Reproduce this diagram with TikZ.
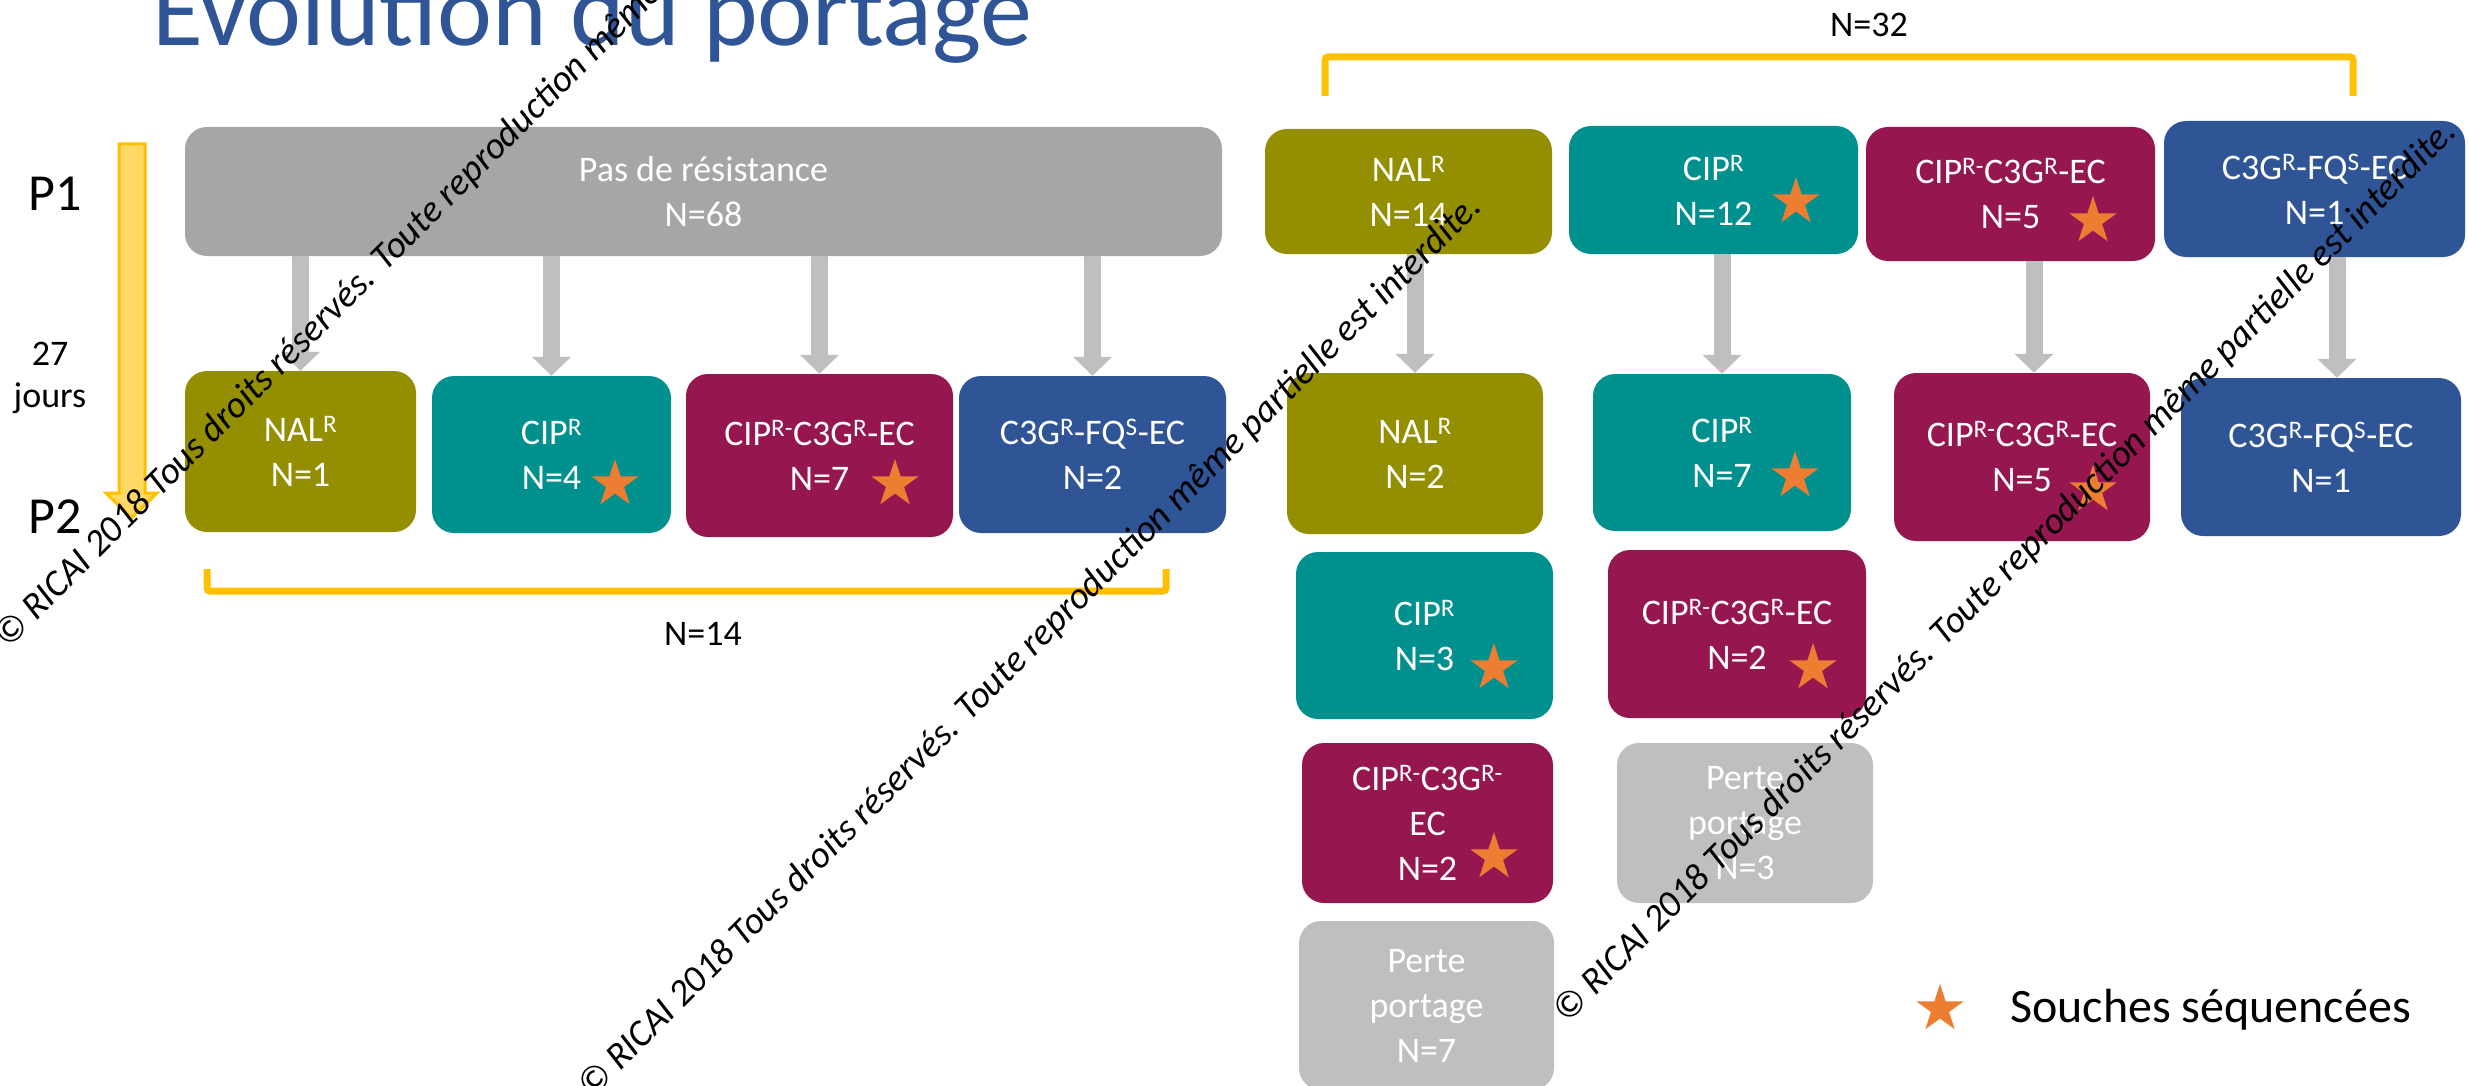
\documentclass[tikz,border=0pt]{standalone}
\usepackage{fontspec}
\setmainfont{Carlito}
\usetikzlibrary{arrows.meta,shapes.geometric}
\definecolor{titleblue}{HTML}{2F5597}
\definecolor{nalgreen}{HTML}{948F00}
\definecolor{cipteal}{HTML}{00918F}
\definecolor{cecrimson}{HTML}{96174F}
\definecolor{fqblue}{HTML}{2F5597}
\definecolor{nores}{HTML}{A6A6A6}
\definecolor{lostgray}{HTML}{BFBFBF}
\definecolor{seqorange}{HTML}{ED7D31}
\definecolor{gold}{HTML}{FFC000}
\definecolor{goldlight}{HTML}{FFD966}
\tikzset{
  strain/.style={rounded corners=22pt, inner sep=0pt, align=center, text=white, font=\fontsize{36}{45}\selectfont},
  seq/.style={star, star points=5, star point ratio=2.618, minimum size=50pt, inner sep=0pt, fill=seqorange},
  flow/.style={line width=17pt, lostgray, -{Triangle[width=38pt,length=19pt]}},
  brace/.style={line width=7pt, gold, rounded corners=3pt},
  lbl/.style={inner sep=0pt, anchor=base, font=\fontsize{36}{45}\selectfont},
  wmark/.style={anchor=base west, rotate=45, inner sep=0pt, font=\fontsize{37.6}{44}\selectfont\itshape}
}
\begin{document}
\begin{tikzpicture}[x=1pt,y=-1pt]
\path[use as bounding box] (0,0) rectangle (2468,1086);
\node[anchor=base west, inner sep=0pt, text=titleblue, font=\fontsize{104}{110}\selectfont] (title) at (152,46) {Evolution du portage};
\node[lbl, font=\fontsize{52}{60}\selectfont] (p1) at (55,211) {P1};
\node[lbl, font=\fontsize{52}{60}\selectfont] (p2) at (55,533) {P2};
\node[lbl] (days) at (50,365) {27};
\node[lbl] (jours) at (50,407) {jours};
\draw[line width=3pt, draw=gold, fill=goldlight] (119,144) -- (145,144) -- (145,493) -- (157,493) -- (131.5,518) -- (106,493) -- (119,493) -- cycle;
\node[strain, fill=nores, minimum width=1037pt, minimum height=129pt] (nores) at (703.5,191.5) {Pas de résistance\\N=68};
\node[strain, fill=nalgreen, minimum width=231pt, minimum height=161pt] (nal1) at (300.5,451.5) {NAL\textsuperscript{R}\\N=1};
\node[strain, fill=cipteal, minimum width=239pt, minimum height=157pt] (cip4) at (551.5,454.5) {CIP\textsuperscript{R}\\N=4};
\node[strain, fill=cecrimson, minimum width=267pt, minimum height=163pt] (ce7) at (819.5,455.5) {CIP\textsuperscript{R-}C3G\textsuperscript{R}-EC\\N=7};
\node[strain, fill=fqblue, minimum width=267pt, minimum height=157pt] (fq2) at (1092.5,454.5) {C3G\textsuperscript{R}-FQ\textsuperscript{S}-EC\\N=2};
\node[strain, fill=nalgreen, minimum width=287pt, minimum height=125pt] (nal14) at (1408.5,191.5) {NAL\textsuperscript{R}\\N=14};
\node[strain, fill=cipteal, minimum width=289pt, minimum height=128pt] (cip12) at (1713.5,190) {CIP\textsuperscript{R}\\N=12};
\node[strain, fill=cecrimson, minimum width=289pt, minimum height=134pt] (ce5) at (2010.5,194) {CIP\textsuperscript{R-}C3G\textsuperscript{R}-EC\\N=5};
\node[strain, fill=fqblue, minimum width=301pt, minimum height=136pt] (fq1) at (2314.5,189) {C3G\textsuperscript{R}-FQ\textsuperscript{S}-EC\\N=1};
\node[strain, fill=nalgreen, minimum width=256pt, minimum height=161pt] (nal2) at (1415,453.5) {NAL\textsuperscript{R}\\N=2};
\node[strain, fill=cipteal, minimum width=258pt, minimum height=157pt] (cip7) at (1722,452.5) {CIP\textsuperscript{R}\\N=7};
\node[strain, fill=cecrimson, minimum width=256pt, minimum height=168pt] (ce5b) at (2022,457) {CIP\textsuperscript{R-}C3G\textsuperscript{R}-EC\\N=5};
\node[strain, fill=fqblue, minimum width=280pt, minimum height=158pt] (fq1b) at (2321,457) {C3G\textsuperscript{R}-FQ\textsuperscript{S}-EC\\N=1};
\node[strain, fill=cipteal, minimum width=257pt, minimum height=167pt] (cip3) at (1424.5,635.5) {CIP\textsuperscript{R}\\N=3};
\node[strain, fill=cecrimson, minimum width=258pt, minimum height=168pt] (ce2) at (1737,634) {CIP\textsuperscript{R-}C3G\textsuperscript{R}-EC\\N=2};
\node[strain, fill=cecrimson, minimum width=251pt, minimum height=160pt] (ce2b) at (1427.5,823) {CIP\textsuperscript{R-}C3G\textsuperscript{R-}\\EC\\N=2};
\node[strain, fill=lostgray, minimum width=256pt, minimum height=160pt] (lost3) at (1745,823) {Perte\\portage\\N=3};
\node[strain, fill=lostgray, minimum width=255pt, minimum height=169pt] (lost7) at (1426.5,1005.5) {Perte\\portage\\N=7};
\draw[flow] (nal1.north |- nores.south) -- (nal1.north);
\draw[flow] (cip4.north |- nores.south) -- (cip4.north);
\draw[flow] (ce7.north |- nores.south) -- (ce7.north);
\draw[flow] (fq2.north |- nores.south) -- (fq2.north);
\draw[flow] (nal2.north |- nal14.south) -- (nal2.north);
\draw[flow] (cip7.north |- cip12.south) -- (cip7.north);
\draw[flow] ([xshift=12pt]ce5b.north |- ce5.south) -- ([xshift=12pt]ce5b.north);
\draw[flow] ([xshift=16pt]fq1b.north |- fq1.south) -- ([xshift=16pt]fq1b.north);
\node[seq] (s4) at (615,484) {};
\node[seq] (s7) at (895,484) {};
\node[seq] (s12) at (1796,202) {};
\node[seq] (s5) at (2093,221) {};
\node[seq] (s7b) at (1795,476) {};
\node[seq] (s5b) at (2093,490) {};
\node[seq] (s3) at (1494,668) {};
\node[seq] (s2) at (1813,668) {};
\node[seq] (s2b) at (1494,857) {};
\draw[brace] (207,569) -- (207,591) -- (1166,591) -- (1166,569);
\node[lbl] (n14) at (703,645) {N=14};
\draw[brace] (1325,96) -- (1325,57) -- (2353,57) -- (2353,96);
\node[lbl] (n32) at (1869,37) {N=32};
\node[seq] (key) at (1940,1009) {};
\node[lbl, anchor=base west, font=\fontsize{48}{56}\selectfont] (keytext) at (2010,1022) {Souches séquencées};
\node[wmark] (wma) at (8,650) {© RICAI 2018 Tous droits réservés. Toute reproduction même partielle est interdite.};
\node[wmark] (wmb) at (592,1100) {© RICAI 2018 Tous droits réservés. Toute reproduction même partielle est interdite.};
\node[wmark] (wmc) at (1567,1025) {© RICAI 2018 Tous droits réservés. Toute reproduction même partielle est interdite.};
\end{tikzpicture}
\end{document}
